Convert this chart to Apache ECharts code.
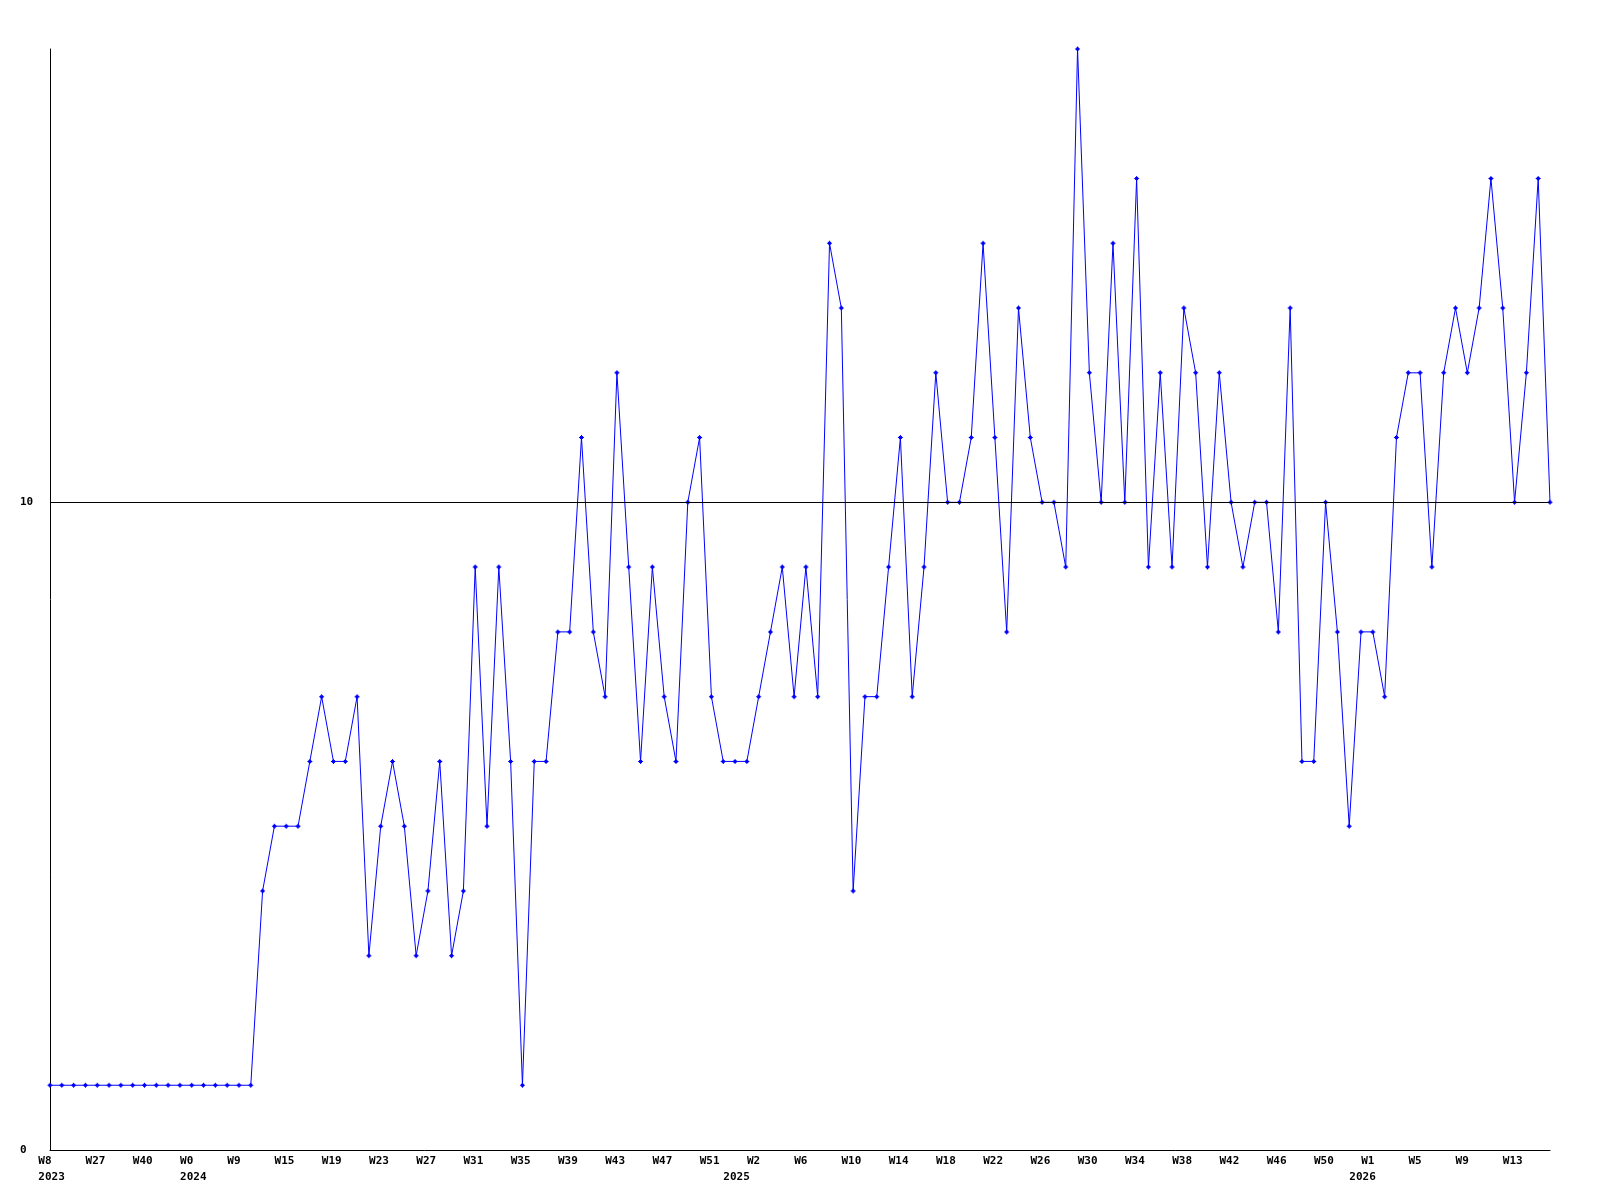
<!DOCTYPE html>
<html>
<head>
<meta charset="utf-8">
<style>
html,body{margin:0;padding:0;background:#fff;}
#chart{width:1600px;height:1200px;}
</style>
<script src="https://cdn.jsdelivr.net/npm/echarts@6/dist/echarts.min.js"></script>
</head>
<body>
<div id="chart"></div>
<script>
// Week categories (year-week)
const categories = [
  "2023-W8","2023-W12","2023-W17","2023-W22","2023-W27","2023-W30","2023-W33","2023-W37",
  "2023-W40","2023-W43","2023-W47","2023-W50",
  "2024-W0","2024-W2","2024-W5","2024-W7","2024-W9","2024-W11","2024-W12","2024-W14",
  "2024-W15","2024-W16","2024-W17","2024-W18","2024-W19","2024-W20","2024-W21","2024-W22",
  "2024-W23","2024-W24","2024-W25","2024-W26","2024-W27","2024-W28","2024-W29","2024-W30",
  "2024-W31","2024-W32","2024-W33","2024-W34","2024-W35","2024-W36","2024-W37","2024-W38",
  "2024-W39","2024-W40","2024-W41","2024-W42","2024-W43","2024-W44","2024-W45","2024-W46",
  "2024-W47","2024-W48","2024-W49","2024-W50","2024-W51","2024-W52",
  "2025-W0","2025-W1","2025-W2","2025-W3","2025-W4","2025-W5","2025-W6","2025-W7",
  "2025-W8","2025-W9","2025-W10","2025-W11","2025-W12","2025-W13","2025-W14","2025-W15",
  "2025-W16","2025-W17","2025-W18","2025-W19","2025-W20","2025-W21","2025-W22","2025-W23",
  "2025-W24","2025-W25","2025-W26","2025-W27","2025-W28","2025-W29","2025-W30","2025-W31",
  "2025-W32","2025-W33","2025-W34","2025-W35","2025-W36","2025-W37","2025-W38","2025-W39",
  "2025-W40","2025-W41","2025-W42","2025-W43","2025-W44","2025-W45","2025-W46","2025-W47",
  "2025-W48","2025-W49","2025-W50","2025-W51","2025-W52",
  "2026-W0","2026-W1","2026-W2","2026-W3","2026-W4","2026-W5","2026-W6","2026-W7",
  "2026-W8","2026-W9","2026-W10","2026-W11","2026-W12","2026-W13","2026-W14","2026-W15","2026-W16"
];

// Weekly values
const values = [
  1,1,1,1,1,1,1,1,1,1,1,1,1,1,1,1,1,1,
  4,5,5,5,6,7,6,6,7,3,5,6,5,3,4,6,3,4,9,5,9,6,1,6,6,8,8,11,8,7,12,9,
  6,9,7,6,10,11,7,6,6,6,7,8,9,7,9,7,14,13,4,7,7,9,11,7,9,12,10,10,11,14,
  11,8,13,11,10,10,9,17,12,10,14,10,15,9,12,9,13,12,9,12,10,9,10,10,8,13,
  6,6,10,8,5,8,8,7,11,12,12,9,12,13,12,13,15,13,10,12,15,10
];

// Y-axis settings
const yMin = 0, yMax = 17, yInterval = 10;
const referenceLine = 10;

const FONT = '"DejaVu Sans Mono", "Liberation Mono", monospace';

function yearOf(c) { return c.split('-')[0]; }
function weekOf(c) { return c.split('-')[1]; }
function isYearStart(index) {
  return index === 0 || yearOf(categories[index]) !== yearOf(categories[index - 1]);
}

const chart = echarts.init(document.getElementById('chart'), null, {renderer: 'canvas'});
const markerPath = 'path://M2,0H3V1H4V2H5V3H4V4H3V5H2V4H1V3H0V2H1V1H2Z';

const labelStyle = {color: '#000', fontFamily: FONT, fontWeight: 'bold', fontSize: 11, lineHeight: 16};

chart.setOption({
  animation: false,
  backgroundColor: '#ffffff',
  grid: [
    {left: 50, right: 50, top: 49, bottom: 50},
    {left: 38.3, right: 61.7, top: 49, bottom: 50}
  ],
  xAxis: [
    {
      type: 'category', gridIndex: 0, data: categories, boundaryGap: false,
      axisLine: {show: true, lineStyle: {color: '#000', width: 1}},
      axisTick: {show: false},
      axisLabel: {show: false},
      splitLine: {show: false}
    },
    {
      type: 'category', gridIndex: 1, data: categories, boundaryGap: false, position: 'bottom',
      axisLine: {show: false}, axisTick: {show: false}, splitLine: {show: false},
      axisLabel: Object.assign({
        show: true, interval: 3, align: 'left', margin: 3,
        formatter: function (v) { return weekOf(v); }
      }, labelStyle)
    },
    {
      type: 'category', gridIndex: 1, data: categories, boundaryGap: false, position: 'bottom', offset: 0,
      axisLine: {show: false}, axisTick: {show: false}, splitLine: {show: false},
      axisLabel: Object.assign({
        show: true, align: 'left', margin: 19,
        interval: function (index) { return isYearStart(index); },
        formatter: function (v) { return yearOf(v); }
      }, labelStyle)
    }
  ],
  yAxis: [
    {
      type: 'value', gridIndex: 0, min: yMin, max: yMax, interval: yInterval,
      axisLine: {show: true, lineStyle: {color: '#000', width: 1}},
      axisTick: {show: false},
      splitLine: {show: false},
      axisLabel: {
        show: true, align: 'left', margin: 30, showMaxLabel: false,
        color: '#000', fontFamily: FONT, fontWeight: 'bold', fontSize: 11
      }
    },
    {
      type: 'value', gridIndex: 1, min: yMin, max: yMax, show: false
    }
  ],
  series: [{
    type: 'line',
    xAxisIndex: 0, yAxisIndex: 0,
    data: values,
    symbol: markerPath,
    symbolSize: 5,
    showSymbol: true,
    showAllSymbol: true,
    lineStyle: {color: '#0000ff', width: 1},
    itemStyle: {color: '#0000ff'},
    markLine: {
      silent: true, symbol: 'none',
      label: {show: false},
      lineStyle: {color: '#000', width: 1, type: 'solid'},
      data: [{yAxis: referenceLine}]
    }
  }]
});
</script>
</body>
</html>
